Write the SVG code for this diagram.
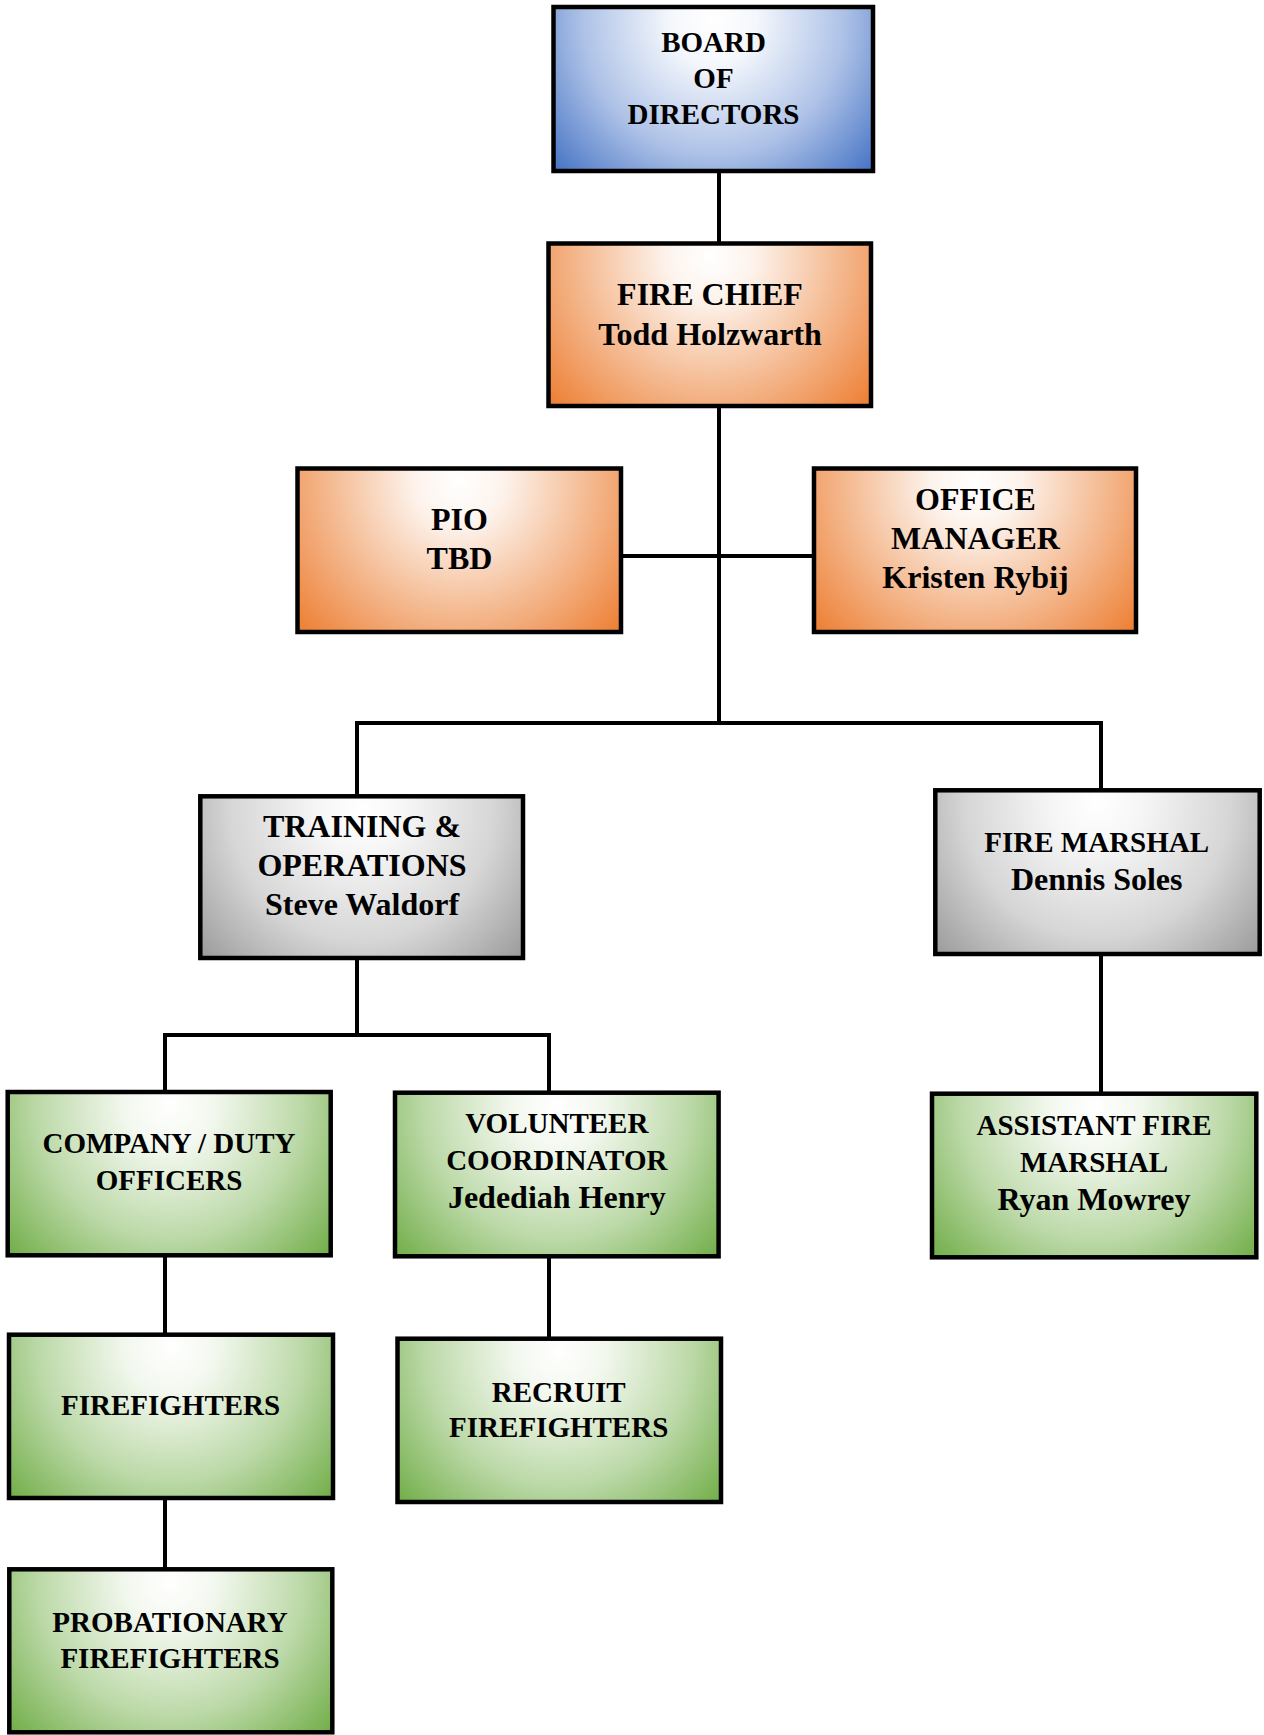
<svg xmlns="http://www.w3.org/2000/svg" width="1264" height="1735" viewBox="0 0 1264 1735">
<style>
.box{stroke:#000;stroke-width:4.5}
.t{font-family:"Liberation Serif","Times New Roman",serif;font-weight:bold;fill:#000;text-anchor:middle}
.b{font-size:29px}.o{font-size:32px}.s{font-size:29px}
.c{fill:none;stroke:#000;stroke-width:4}
</style>
<defs>
<radialGradient id="gBlue" cx="0.5" cy="0.08" r="0.68" gradientTransform="translate(0.5 0.08) scale(1 2) translate(-0.5 -0.08)">
<stop offset="0" stop-color="#ffffff"/><stop offset="0.2" stop-color="#f4f7fc"/><stop offset="0.6" stop-color="#aec2e7"/><stop offset="1" stop-color="#4472c4"/>
</radialGradient>
<radialGradient id="gOrange" cx="0.5" cy="0.08" r="0.68" gradientTransform="translate(0.5 0.08) scale(1 2) translate(-0.5 -0.08)">
<stop offset="0" stop-color="#ffffff"/><stop offset="0.2" stop-color="#fdf3ec"/><stop offset="0.6" stop-color="#f4b88e"/><stop offset="1" stop-color="#ed7d31"/>
</radialGradient>
<radialGradient id="gGray" cx="0.5" cy="0.08" r="0.68" gradientTransform="translate(0.5 0.08) scale(1 2) translate(-0.5 -0.08)">
<stop offset="0" stop-color="#ffffff"/><stop offset="0.2" stop-color="#f6f6f6"/><stop offset="0.6" stop-color="#d6d6d6"/><stop offset="1" stop-color="#9a9a9a"/>
</radialGradient>
<radialGradient id="gGreen" cx="0.5" cy="0.08" r="0.68" gradientTransform="translate(0.5 0.08) scale(1 2) translate(-0.5 -0.08)">
<stop offset="0" stop-color="#ffffff"/><stop offset="0.2" stop-color="#f3f8ef"/><stop offset="0.6" stop-color="#bcd9a8"/><stop offset="1" stop-color="#70ad47"/>
</radialGradient>
</defs>
<g id="connectors">
<path class="c" d="M719 171 V243.5"/>
<path class="c" d="M719 406 V723"/>
<path class="c" d="M621 556 H814"/>
<path class="c" d="M357 723 H1101 M357 721 V796.3 M1101 721 V790.3"/>
<path class="c" d="M357 958 V1035"/>
<path class="c" d="M165 1035 H549 M165 1033 V1092 M549 1033 V1096"/>
<path class="c" d="M1101 954 V1093.7"/>
<path class="c" d="M165 1255.3 V1334.7"/>
<path class="c" d="M165 1498 V1569.3"/>
<path class="c" d="M549 1256.3 V1338.7"/>
</g>
<g id="board">
<rect class="box" x="553.5" y="7" width="319.5" height="164" fill="url(#gBlue)"/>
<text class="t b" x="713.5" y="51.7">BOARD</text>
<text class="t b" x="713.5" y="88.3">OF</text>
<text class="t b" x="713.5" y="124">DIRECTORS</text>
</g>
<g id="fire-chief">
<rect class="box" x="548.5" y="243.5" width="322.5" height="162.5" fill="url(#gOrange)"/>
<text class="t o" x="710" y="305">FIRE CHIEF</text>
<text class="t o" x="710" y="345">Todd Holzwarth</text>
</g>
<g id="pio">
<rect class="box" x="297.5" y="468.5" width="323.5" height="163.5" fill="url(#gOrange)"/>
<text class="t o" x="459.5" y="530">PIO</text>
<text class="t o" x="459.5" y="569">TBD</text>
</g>
<g id="office-manager">
<rect class="box" x="814" y="468.5" width="322" height="163.5" fill="url(#gOrange)"/>
<text class="t o" x="975.5" y="510">OFFICE</text>
<text class="t o" x="975.5" y="549.3">MANAGER</text>
<text class="t o" x="975.5" y="588">Kristen Rybij</text>
</g>
<g id="training-operations">
<rect class="box" x="200.3" y="796.3" width="322.7" height="161.7" fill="url(#gGray)"/>
<text class="t o" x="362" y="837.3">TRAINING &amp;</text>
<text class="t o" x="362" y="876">OPERATIONS</text>
<text class="t o" x="362" y="915">Steve Waldorf</text>
</g>
<g id="fire-marshal">
<rect class="box" x="935.3" y="790.3" width="324.4" height="163.7" fill="url(#gGray)"/>
<text class="t s" x="1096.7" y="851.7">FIRE MARSHAL</text>
<text class="t o" x="1096.7" y="890">Dennis Soles</text>
</g>
<g id="company-duty-officers">
<rect class="box" x="7.7" y="1092" width="323" height="163.3" fill="url(#gGreen)"/>
<text class="t s" x="169" y="1153.3">COMPANY / DUTY</text>
<text class="t s" x="169" y="1190">OFFICERS</text>
</g>
<g id="volunteer-coordinator">
<rect class="box" x="395" y="1092.7" width="323.6" height="163.6" fill="url(#gGreen)"/>
<text class="t s" x="556.8" y="1133.3">VOLUNTEER</text>
<text class="t s" x="556.8" y="1170">COORDINATOR</text>
<text class="t o" x="556.8" y="1208.3">Jedediah Henry</text>
</g>
<g id="assistant-fire-marshal">
<rect class="box" x="932" y="1093.7" width="324.3" height="163.6" fill="url(#gGreen)"/>
<text class="t s" x="1094" y="1135">ASSISTANT FIRE</text>
<text class="t s" x="1094" y="1171.7">MARSHAL</text>
<text class="t o" x="1094" y="1210">Ryan Mowrey</text>
</g>
<g id="firefighters">
<rect class="box" x="9" y="1334.7" width="324" height="163.3" fill="url(#gGreen)"/>
<text class="t s" x="170.6" y="1415">FIREFIGHTERS</text>
</g>
<g id="recruit-firefighters">
<rect class="box" x="397.5" y="1338.7" width="323.5" height="163.3" fill="url(#gGreen)"/>
<text class="t s" x="558.7" y="1401.7">RECRUIT</text>
<text class="t s" x="558.7" y="1436.7">FIREFIGHTERS</text>
</g>
<g id="probationary-firefighters">
<rect class="box" x="9.3" y="1569.3" width="323" height="163" fill="url(#gGreen)"/>
<text class="t s" x="170" y="1631.7">PROBATIONARY</text>
<text class="t s" x="170" y="1668.3">FIREFIGHTERS</text>
</g>
</svg>
